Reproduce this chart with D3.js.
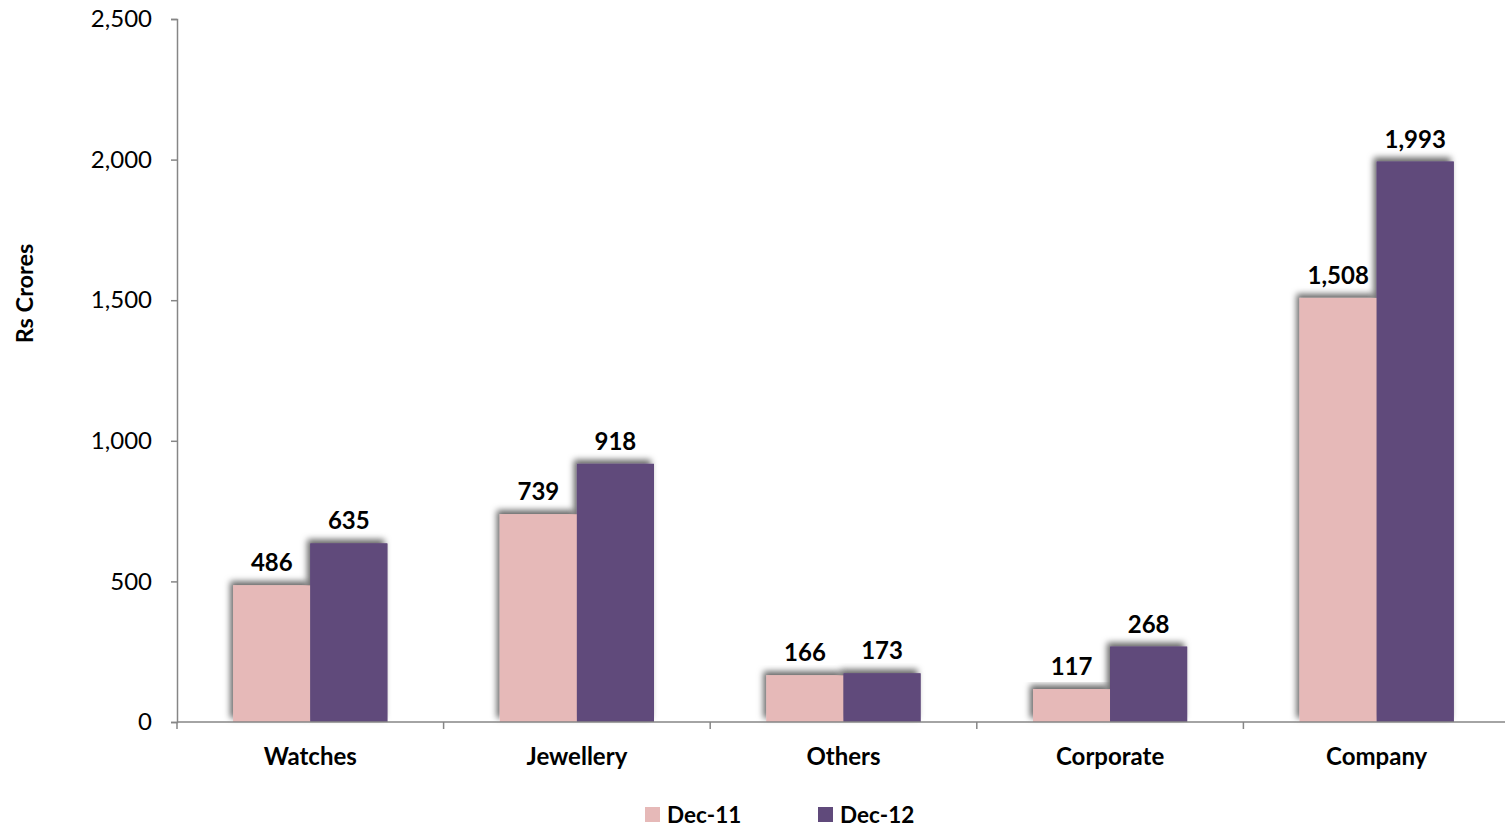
<!DOCTYPE html>
<html>
<head>
<meta charset="utf-8">
<script src="https://cdn.jsdelivr.net/npm/d3@7"></script>
<style>
  html, body { margin: 0; padding: 0; background: #fff; }
  svg { display: block; font-family: Lato, "Open Sans", sans-serif; }
</style>
</head>
<body>
<svg id="chart" width="1505" height="828"></svg>
<script>
// Segment revenue, Rs Crores
const categories = ["Watches", "Jewellery", "Others", "Corporate", "Company"];
const seriesNames = ["Dec-11", "Dec-12"];
const dec11 = [486, 739, 166, 117, 1508];
const dec12 = [635, 918, 173, 268, 1993];
const yTicks = [0, 500, 1000, 1500, 2000, 2500];
const colors = ["#E6B9B8", "#604A7B"];

const svg = d3.select("#chart");
const margin = { left: 177, right: -5, top: 19, bottom: 106 };
const W = 1505, H = 828;
const x0 = margin.left, x1 = W - margin.right;
const yBase = H - margin.bottom, yTop = margin.top;

const defs = svg.append("defs");
const f = defs.append("filter").attr("id", "shadow")
  .attr("x", "-20%").attr("y", "-20%").attr("width", "140%").attr("height", "140%");
f.append("feDropShadow").attr("dx", -3).attr("dy", -4).attr("stdDeviation", 3)
  .attr("flood-color", "#000").attr("flood-opacity", 0.6);

const x = d3.scaleBand().domain(categories).range([x0, x1]).paddingInner(0).paddingOuter(0);
const xs = d3.scaleBand().domain(seriesNames).range([0, x.bandwidth()]).paddingInner(0).paddingOuter(0.73);
const y = d3.scaleLinear().domain([0, 2500]).range([yBase, yTop]);

const rows = categories.map((c, i) => ({ cat: c, vals: [dec11[i], dec12[i]] }));

// bars: shadow layer first, then clean fills on top
const g = svg.append("g");
[true, false].forEach(withShadow => {
  rows.forEach(r => {
    r.vals.forEach((v, j) => {
      const rect = g.append("rect")
        .attr("x", x(r.cat) + xs(seriesNames[j]))
        .attr("y", y(v))
        .attr("width", xs.bandwidth())
        .attr("height", y(0) - y(v))
        .attr("fill", colors[j]);
      if (withShadow) rect.attr("filter", "url(#shadow)");
    });
  });
});

// value labels
const fmt = d3.format(",");
rows.forEach(r => {
  r.vals.forEach((v, j) => {
    svg.append("text")
      .attr("x", x(r.cat) + xs(seriesNames[j]) + xs.bandwidth() / 2)
      .attr("y", y(v) - 14)
      .attr("text-anchor", "middle")
      .attr("font-weight", "bold")
      .attr("font-size", 24)
      .attr("fill", "#000")
      .text(fmt(v));
  });
});

// y axis
const yAxis = d3.axisLeft(y).tickValues(yTicks).tickFormat(fmt).tickSize(6).tickPadding(19);
const ya = svg.append("g").attr("transform", `translate(${x0},0)`).call(yAxis);
ya.select(".domain").attr("stroke", "#868686").attr("stroke-width", 1.5);
ya.selectAll(".tick line").attr("stroke", "#868686").attr("stroke-width", 1.5);
ya.selectAll(".tick text").attr("font-size", 24).attr("fill", "#000")
  .attr("font-family", "Lato, sans-serif");

// x axis line and category boundary ticks
svg.append("line").attr("x1", x0).attr("x2", W).attr("y1", yBase).attr("y2", yBase)
  .attr("stroke", "#868686").attr("stroke-width", 1.5);
categories.forEach(c => {
  svg.append("line").attr("x1", x(c)).attr("x2", x(c)).attr("y1", yBase).attr("y2", yBase + 7)
    .attr("stroke", "#868686").attr("stroke-width", 1.5);
  svg.append("text")
    .attr("x", x(c) + x.bandwidth() / 2)
    .attr("y", yBase + 43)
    .attr("text-anchor", "middle")
    .attr("font-weight", "bold")
    .attr("font-size", 24)
    .text(c);
});

// y axis title
svg.append("text")
  .attr("transform", `translate(33,${(yBase + yTop) / 2 - 77}) rotate(-90)`)
  .attr("text-anchor", "middle")
  .attr("font-weight", "bold")
  .attr("font-size", 23.5)
  .text("Rs Crores");

// legend
const legendX = [645, 818];
seriesNames.forEach((s, j) => {
  svg.append("rect").attr("x", legendX[j]).attr("y", 807).attr("width", 15).attr("height", 15)
    .attr("fill", colors[j]);
  svg.append("text").attr("x", legendX[j] + 22).attr("y", 823)
    .attr("font-weight", "bold").attr("font-size", 22.5).text(s);
});
</script>
</body>
</html>
